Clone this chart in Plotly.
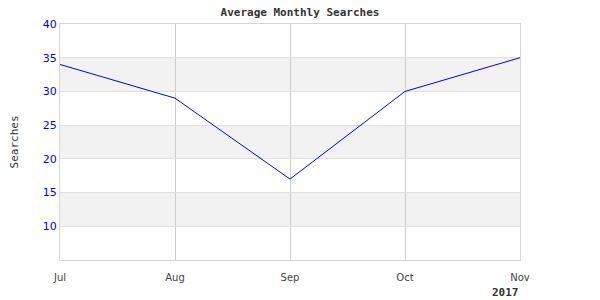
import plotly.graph_objects as go

months = ["Jul", "Aug", "Sep", "Oct", "Nov"]
searches = [34, 29, 17, 30, 35]
y_ticks = [10, 15, 20, 25, 30, 35, 40]
bands = [(10, 15), (20, 25), (30, 35)]
year_label = "2017"

fig = go.Figure()
fig.add_trace(go.Scatter(x=months, y=searches, mode="lines",
                         line=dict(color="#0000ff", width=1), hoverinfo="skip"))

for lo, hi in bands:
    fig.add_shape(type="rect", xref="paper", yref="y", x0=0, x1=1, y0=lo, y1=hi,
                  fillcolor="#f2f2f2", line=dict(width=0), layer="below")

fig.update_layout(
    width=600, height=300,
    margin=dict(l=60, r=80, t=24, b=40),
    paper_bgcolor="white", plot_bgcolor="white",
    showlegend=False,
    title=dict(text="<b>Average Monthly Searches</b>", x=0.5, xref="container",
               y=1 - 12/300, yref="container", xanchor="center", yanchor="middle",
               font=dict(family="DejaVu Sans Mono", size=11, color="#333333")),
    xaxis=dict(type="category", range=[0, 4], showgrid=True, gridcolor="#cccccc",
               gridwidth=1, showline=True, linecolor="#d6d6d6", mirror=True,
               ticks="", ticklabelstandoff=8,
               tickfont=dict(family="DejaVu Sans", size=10, color="#444444"),
               zeroline=False),
    yaxis=dict(range=[5, 40], tickvals=y_ticks, showgrid=True, gridcolor="#e0e0e0",
               showline=True, linecolor="#d6d6d6", mirror=True, ticks="",
               tickfont=dict(family="DejaVu Sans", size=11, color="#0000ff"),
               title=dict(text="Searches", standoff=21,
                          font=dict(family="DejaVu Sans Mono", size=11, color="#333333")),
               zeroline=False),
    annotations=[dict(text="<b>" + year_label + "</b>", xref="paper", yref="paper",
                      x=(505 - 60) / 460, y=-32/236, xanchor="center", yanchor="middle",
                      showarrow=False,
                      font=dict(family="DejaVu Sans Mono", size=11, color="#333333"))],
)

fig.write_html("out.html")
